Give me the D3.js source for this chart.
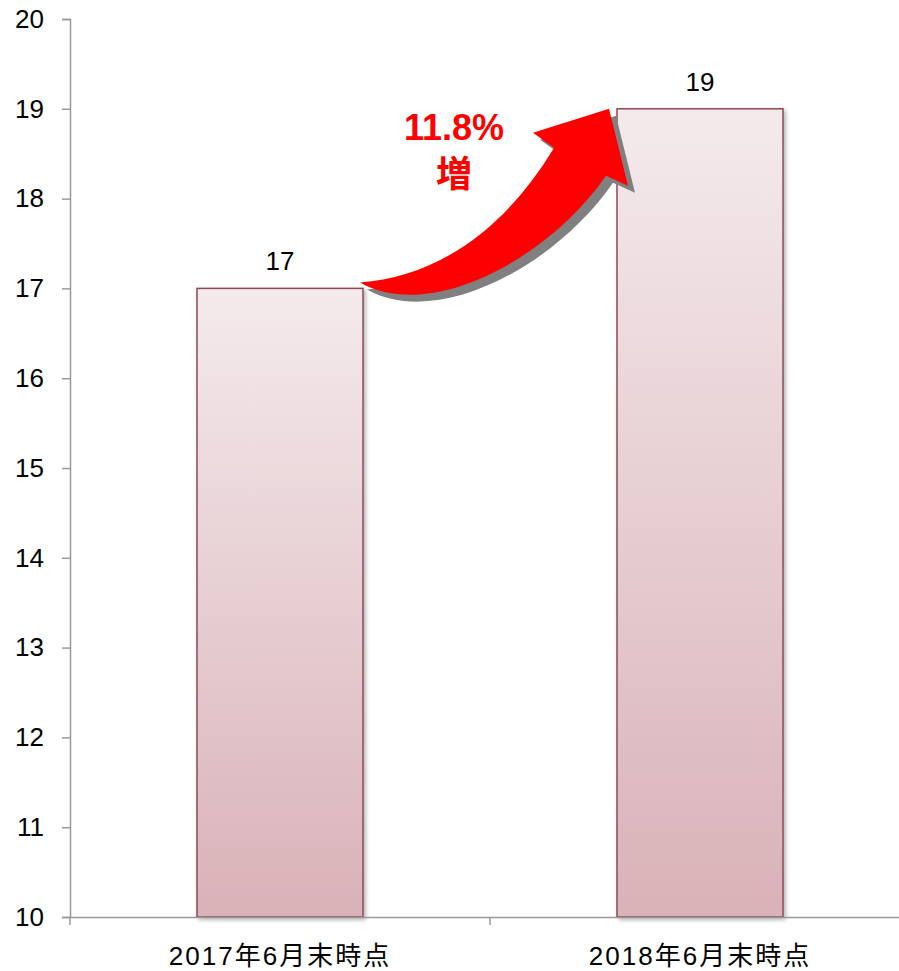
<!DOCTYPE html>
<html>
<head>
<meta charset="utf-8">
<title>Chart</title>
<script src="https://cdnjs.cloudflare.com/ajax/libs/d3/7.8.5/d3.min.js"></script>
<style>
  body { margin: 0; background: #fff; }
  text { font-family: "Liberation Sans", Arial, "Noto Sans CJK JP", sans-serif; }
</style>
</head>
<body>
<script>
var categories = ["2017年6月末時点", "2018年6月末時点"];
var values = [17, 19];
var yTicks = [10, 11, 12, 13, 14, 15, 16, 17, 18, 19, 20];
var growthLabel = ["11.8%", "増"];

var width = 899, height = 971;
var svg = d3.select("body").append("svg")
  .attr("width", width)
  .attr("height", height);

var x = d3.scaleBand().domain(categories).range([70, 910]).paddingInner(0).paddingOuter(0);
var y = d3.scaleLinear().domain([10, 20]).range([917, 19]);

var defs = svg.append("defs");
var grad = defs.append("linearGradient").attr("id", "barGrad")
  .attr("x1", 0).attr("y1", 0).attr("x2", 0).attr("y2", 1);
grad.append("stop").attr("offset", "0%").attr("stop-color", "#f4eaec");
grad.append("stop").attr("offset", "100%").attr("stop-color", "#d9b2b8");

var shadow = defs.append("filter").attr("id", "barShadow")
  .attr("x", "-10%").attr("y", "-10%").attr("width", "130%").attr("height", "130%");
shadow.append("feDropShadow").attr("dx", 2).attr("dy", 2).attr("stdDeviation", 2)
  .attr("flood-color", "#000").attr("flood-opacity", 0.3);

// y axis
var yAxis = d3.axisLeft(y).tickValues(yTicks).tickSize(8).tickPadding(18);
var gy = svg.append("g").attr("transform", "translate(70,0)").call(yAxis);
gy.select(".domain").attr("stroke", "#999").attr("stroke-width", 1.5);
gy.selectAll(".tick line").attr("stroke", "#999").attr("stroke-width", 1.5);
gy.selectAll(".tick text").attr("font-size", 26).attr("fill", "#000")
  .attr("font-family", "Liberation Sans, Arial, sans-serif");

// bars
var barW = 166;
svg.selectAll("rect.bar").data(values).enter().append("rect")
  .attr("class", "bar")
  .attr("x", function(d, i) { return x(categories[i]) + x.bandwidth() / 2 - barW / 2; })
  .attr("y", function(d) { return y(d); })
  .attr("width", barW)
  .attr("height", function(d) { return y(10) - y(d); })
  .attr("fill", "url(#barGrad)")
  .attr("stroke", "#8a4a5a")
  .attr("stroke-width", 1.5)
  .attr("filter", "url(#barShadow)");

// x axis
var xAxis = d3.axisBottom(x).tickValues([]).tickSizeOuter(0);
var gx = svg.append("g").attr("transform", "translate(0," + y(10) + ")").call(xAxis);
gx.select(".domain").attr("stroke", "#999").attr("stroke-width", 1.5);
gx.append("line").attr("x1", 70).attr("x2", 70).attr("y1", 0).attr("y2", 8)
  .attr("stroke", "#999").attr("stroke-width", 1.5);
gx.append("line").attr("x1", x(categories[1])).attr("x2", x(categories[1])).attr("y1", 0).attr("y2", 8)
  .attr("stroke", "#999").attr("stroke-width", 1.5);
gx.selectAll("text.cat").data(categories).enter().append("text")
  .attr("class", "cat")
  .attr("x", function(d) { return x(d) + x.bandwidth() / 2; })
  .attr("y", 48)
  .attr("text-anchor", "middle")
  .attr("font-size", 26)
  .attr("letter-spacing", 2)
  .attr("fill", "#000")
  .text(function(d) { return d; });

// value labels
svg.selectAll("text.val").data(values).enter().append("text")
  .attr("class", "val")
  .attr("x", function(d, i) { return x(categories[i]) + x.bandwidth() / 2; })
  .attr("y", function(d) { return y(d) - 18; })
  .attr("text-anchor", "middle")
  .attr("font-size", 26)
  .attr("fill", "#000")
  .text(function(d) { return d; });

// growth arrow, anchored to bar tops
var x0 = x(categories[0]) + x.bandwidth() / 2 + barW / 2 - 3;
var y0 = y(values[0]) - 6;
var x1 = x(categories[1]) + x.bandwidth() / 2 - barW / 2 - 8;
var y1 = y(values[1]);
function arrowPath(dx, dy) {
  var p = d3.path();
  function P(px, py) { return [px + dx, py + dy]; }
  var s = P(x0, y0);
  p.moveTo(s[0], s[1]);
  var c1 = P(x0 + 70, y0 - 5), c2 = P(x0 + 140, y0 - 45), e = P(x1 - 55, y1 + 39);
  p.bezierCurveTo(c1[0], c1[1], c2[0], c2[1], e[0], e[1]);
  var b1 = P(x1 - 76, y1 + 24); p.lineTo(b1[0], b1[1]);
  var t = P(x1, y1); p.lineTo(t[0], t[1]);
  var b2 = P(x1 + 19, y1 + 77); p.lineTo(b2[0], b2[1]);
  var n2 = P(x1 - 3, y1 + 67); p.lineTo(n2[0], n2[1]);
  var q1 = P(x1 - 60, y1 + 150), q2 = P(x0 + 70, y0 + 40);
  p.bezierCurveTo(q1[0], q1[1], q2[0], q2[1], s[0], s[1]);
  p.closePath();
  return p.toString();
}
svg.append("path").attr("d", arrowPath(7, 7)).attr("fill", "#808080");
svg.append("path").attr("d", arrowPath(0, 0)).attr("fill", "#ff0000");

svg.selectAll("text.growth").data(growthLabel).enter().append("text")
  .attr("class", "growth")
  .attr("x", 454)
  .attr("y", function(d, i) { return 140 + i * 47; })
  .attr("text-anchor", "middle")
  .attr("font-size", 36)
  .attr("font-weight", "bold")
  .attr("fill", "#ff0000")
  .attr("font-family", function(d, i) { return i === 0 ? "Liberation Sans, Arial, sans-serif" : "Noto Sans CJK JP, sans-serif"; })
  .text(function(d) { return d; });
</script>
</body>
</html>
